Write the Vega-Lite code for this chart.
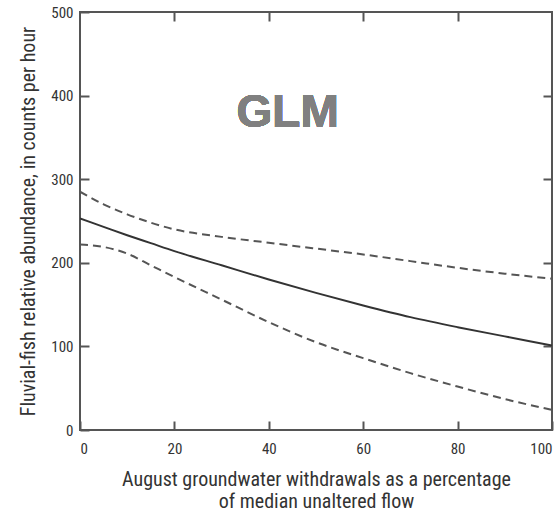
{
  "$schema": "https://vega.github.io/schema/vega-lite/v6.json",
  "width": 472,
  "height": 418,
  "autosize": "none",
  "padding": {"left": 80, "top": 12, "right": 7, "bottom": 87},
  "background": "white",
  "config": {
    "view": {"stroke": "#555", "strokeWidth": 2},
    "axis": {
      "grid": false,
      "domain": false,
      "tickColor": "#555",
      "tickWidth": 2,
      "tickSize": -9,
      "labelFont": "Roboto Condensed, Roboto, sans-serif",
      "labelFontSize": 15,
      "labelColor": "#333",
      "titleFont": "Roboto Condensed, Roboto, sans-serif",
      "titleFontSize": 20,
      "titleFontWeight": "normal",
      "titleColor": "#333"
    }
  },
  "datasets": {
    "curves": [
      {"x": 0, "fit": 253, "upper": 285, "lower": 222},
      {"x": 5, "fit": 243, "upper": 270, "lower": 219},
      {"x": 10, "fit": 233, "upper": 258, "lower": 211},
      {"x": 15, "fit": 223.5, "upper": 248, "lower": 197},
      {"x": 20, "fit": 214, "upper": 240, "lower": 183},
      {"x": 30, "fit": 197, "upper": 231, "lower": 156},
      {"x": 40, "fit": 180, "upper": 224, "lower": 129},
      {"x": 50, "fit": 164, "upper": 217, "lower": 105},
      {"x": 60, "fit": 149, "upper": 210, "lower": 86},
      {"x": 70, "fit": 135, "upper": 202, "lower": 68},
      {"x": 80, "fit": 123, "upper": 194, "lower": 52},
      {"x": 90, "fit": 112, "upper": 187, "lower": 37},
      {"x": 100, "fit": 101, "upper": 181, "lower": 24}
    ]
  },
  "data": {"name": "curves"},
  "layer": [
    {
      "mark": {"type": "line", "color": "#333", "strokeWidth": 2, "interpolate": "monotone", "clip": true},
      "encoding": {
        "x": {"field": "x", "type": "quantitative", "scale": {"domain": [0, 100], "nice": false},
          "axis": {"orient": "bottom", "values": [0, 20, 40, 60, 80, 100], "labelPadding": 20,
            "title": ["August groundwater withdrawals as a percentage", "of median unaltered flow"], "titlePadding": 13}},
        "y": {"field": "fit", "type": "quantitative", "scale": {"domain": [0, 500], "nice": false},
          "axis": {"orient": "left", "values": [0, 100, 200, 300, 400, 500], "labelPadding": 16,
            "title": "Fluvial-fish relative abundance, in counts per hour", "titlePadding": 12}}
      }
    },
    {
      "mark": {"type": "line", "color": "#555", "strokeWidth": 2, "strokeDash": [8, 5], "interpolate": "monotone", "clip": true},
      "encoding": {
        "x": {"field": "x", "type": "quantitative", "axis": {"orient": "top", "values": [20, 40, 60, 80], "labels": false, "title": null}},
        "y": {"field": "upper", "type": "quantitative", "axis": {"orient": "right", "values": [100, 200, 300, 400], "labels": false, "title": null}}
      }
    },
    {
      "mark": {"type": "line", "color": "#555", "strokeWidth": 2, "strokeDash": [8, 5], "interpolate": "monotone", "clip": true},
      "encoding": {
        "x": {"field": "x", "type": "quantitative", "axis": null},
        "y": {"field": "lower", "type": "quantitative", "axis": null}
      }
    },
    {
      "mark": {"type": "text", "text": "GLM", "font": "Liberation Sans, Arial, sans-serif", "fontWeight": "bold", "fontSize": 46, "color": "#808080", "align": "center", "baseline": "alphabetic"},
      "encoding": {
        "x": {"datum": 44, "type": "quantitative", "axis": null},
        "y": {"datum": 363, "type": "quantitative", "axis": null}
      }
    }
  ]
}
